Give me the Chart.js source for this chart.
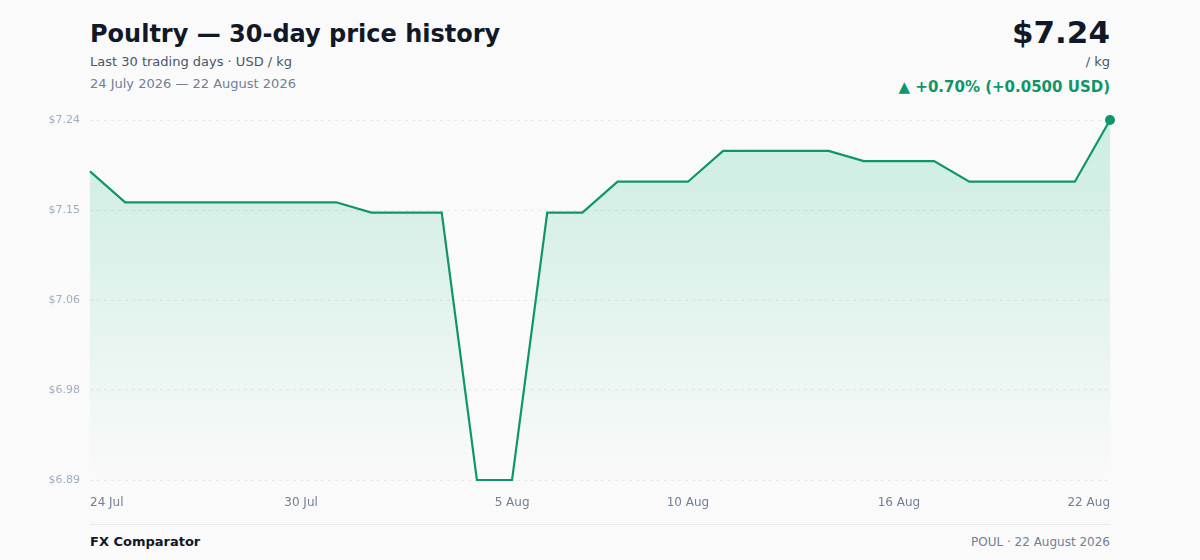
<!DOCTYPE html>
<html>
<head>
<meta charset="utf-8">
<script src="https://cdn.jsdelivr.net/npm/chart.js@4/dist/chart.umd.min.js"></script>
<style>
  html, body { margin: 0; padding: 0; background: #fafafa; }
  body { width: 1200px; height: 560px; position: relative; font-family: "DejaVu Sans", sans-serif; overflow: hidden; }
  .title { position: absolute; left: 90px; top: 20px; font-size: 24px; font-weight: bold; color: #111827; }
  .sub { position: absolute; left: 90px; top: 54px; font-size: 13px; color: #4a5568; }
  .range { position: absolute; left: 90px; top: 76px; font-size: 13px; color: #718096; }
  .price { position: absolute; right: 90px; top: 14px; font-size: 31px; font-weight: bold; color: #111827; }
  .unit { position: absolute; right: 90px; top: 54px; font-size: 13px; color: #4a5568; }
  .change { position: absolute; right: 90px; top: 78px; font-size: 15px; font-weight: bold; color: #0f9668; }
  .chart { position: absolute; left: 0; top: 100px; width: 1200px; height: 420px; }
  .rule { position: absolute; left: 90px; width: 1020px; top: 524px; height: 1px; background: #e6e9ee; }
  .brand { position: absolute; left: 90px; top: 534px; font-size: 13px; font-weight: bold; color: #111827; }
  .meta { position: absolute; right: 90px; top: 535px; font-size: 12px; color: #718096; }
</style>
</head>
<body>
<div class="title">Poultry — 30-day price history</div>
<div class="sub">Last 30 trading days · USD / kg</div>
<div class="range">24 July 2026 — 22 August 2026</div>
<div class="price">$7.24</div>
<div class="unit">/ kg</div>
<div class="change">▲ +0.70% (+0.0500 USD)</div>
<div class="chart"><canvas id="c"></canvas></div>
<div class="rule"></div>
<div class="brand">FX Comparator</div>
<div class="meta">POUL · 22 August 2026</div>
<script>
const dates = [
  "24 Jul", "25 Jul", "26 Jul", "27 Jul", "28 Jul", "29 Jul", "30 Jul", "31 Jul",
  "1 Aug", "2 Aug", "3 Aug", "4 Aug", "5 Aug", "6 Aug", "7 Aug", "8 Aug",
  "9 Aug", "10 Aug", "11 Aug", "12 Aug", "13 Aug", "14 Aug", "15 Aug", "16 Aug",
  "17 Aug", "18 Aug", "19 Aug", "20 Aug", "21 Aug", "22 Aug"
];
const prices = [
  7.19, 7.16, 7.16, 7.16, 7.16, 7.16, 7.16, 7.16,
  7.15, 7.15, 7.15, 6.89, 6.89, 7.15, 7.15, 7.18,
  7.18, 7.18, 7.21, 7.21, 7.21, 7.21, 7.20, 7.20,
  7.20, 7.18, 7.18, 7.18, 7.18, 7.24
];
const shownTicks = ["24 Jul", "30 Jul", "5 Aug", "10 Aug", "16 Aug", "22 Aug"];
const yMin = 6.89, yMax = 7.24;

const green = "#0f9668";

const myChart = new Chart(document.getElementById("c"), {
  type: "line",
  data: {
    labels: dates,
    datasets: [{
      data: prices,
      borderColor: green,
      borderWidth: 2.2,
      tension: 0,
      fill: "start",
      backgroundColor: (c) => {
        const area = c.chart.chartArea;
        if (!area) return "rgba(16,185,129,0.18)";
        const g = c.chart.ctx.createLinearGradient(0, area.top, 0, area.bottom);
        g.addColorStop(0, "rgba(16,185,129,0.2)");
        g.addColorStop(1, "rgba(16,185,129,0.0)");
        return g;
      },
      pointRadius: prices.map((v, i) => i === prices.length - 1 ? 5 : 0),
      pointBackgroundColor: green,
      pointBorderWidth: 0,
      clip: false,
    }],
  },
  options: {
    responsive: true,
    maintainAspectRatio: false,
    animation: false,
    layout: { padding: { top: 20, right: 90, left: 0, bottom: 0 } },
    plugins: { legend: { display: false }, tooltip: { enabled: false } },
    scales: {
      x: {
        grid: { display: false },
        border: { display: false },
        afterFit: (s) => { s.height = 40; },
        ticks: {
          autoSkip: false,
          maxRotation: 0,
          padding: 8,
          align: "inner",
          color: "#718096",
          font: { family: "DejaVu Sans", size: 12 },
          callback: function (v) {
            const l = this.getLabelForValue(v);
            return shownTicks.includes(l) ? l : null;
          },
        },
      },
      y: {
        min: yMin,
        max: yMax,
        afterFit: (s) => { s.width = 90; },
        afterBuildTicks: (s) => {
          const step = (yMax - yMin) / 4;
          s.ticks = [0, 1, 2, 3, 4].map((i) => ({ value: yMin + step * i }));
        },
        grid: { color: "#e6e9ee", drawTicks: false, lineWidth: 1 },
        border: { display: false, dash: [3, 4] },
        ticks: {
          padding: 10,
          color: "#a0aec0",
          font: { family: "DejaVu Sans", size: 11 },
          callback: (v) => "$" + v.toFixed(2),
        },
      },
    },
  },
});
</script>
</body>
</html>
